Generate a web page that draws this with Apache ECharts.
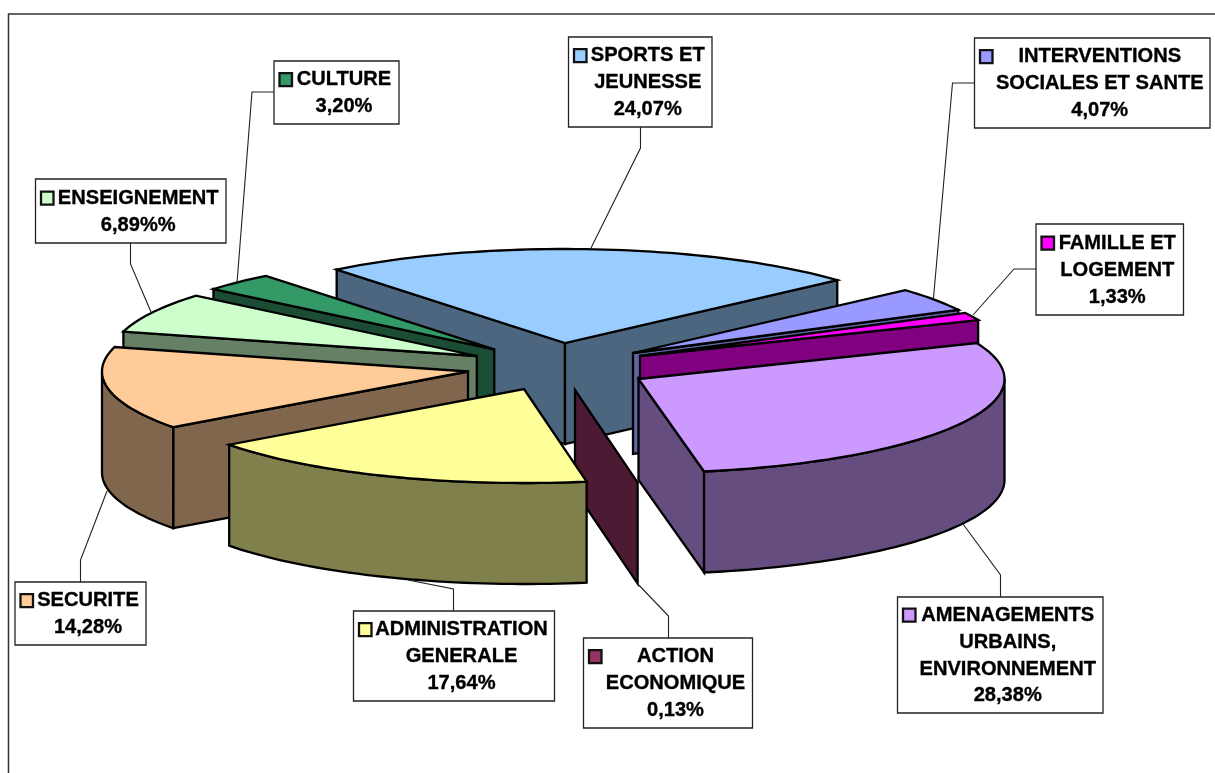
<!DOCTYPE html>
<html>
<head>
<meta charset="utf-8">
<style>html,body{margin:0;padding:0;background:#fff}#c{width:1215px;height:773px}</style>
<script src="https://cdn.jsdelivr.net/npm/echarts@6/dist/echarts.min.js"></script>
</head>
<body>
<div id="c"></div>
<script>
// ---- data ----
var categories = ['SPORTS ET JEUNESSE','INTERVENTIONS SOCIALES ET SANTE','FAMILLE ET LOGEMENT','AMENAGEMENTS URBAINS, ENVIRONNEMENT','ACTION ECONOMIQUE','ADMINISTRATION GENERALE','SECURITE','ENSEIGNEMENT','CULTURE'];
var values = [24.07, 4.07, 1.33, 28.38, 0.13, 17.64, 14.28, 6.89, 3.20];
var valueLabels = ['24,07%','4,07%','1,33%','28,38%','0,13%','17,64%','14,28%','6,89%%','3,20%'];
var labelLines = [['SPORTS ET','JEUNESSE'],['INTERVENTIONS','SOCIALES ET SANTE'],['FAMILLE ET','LOGEMENT'],['AMENAGEMENTS','URBAINS,','ENVIRONNEMENT'],['ACTION','ECONOMIQUE'],['ADMINISTRATION','GENERALE'],['SECURITE'],['ENSEIGNEMENT'],['CULTURE']];

// ---- styles ----
var topColors  = ['#99CCFF','#9999FF','#FF00FF','#CC99FF','#993366','#FFFF99','#FFCC99','#CCFFCC','#339966'];
var sideColors = ['#4D6680','#5F66A3','#800080','#664D80','#4D1A33','#80804D','#80664D','#668066','#1A4D33'];

// ---- layout (pie projection, explosion anchors, callout boxes) ----
var RX = 366, RY = 94, DEPTH = 101, START_ANGLE = -38.6;
var apex = [[565,343],[633,353],[640,356],[638.5,379],[575,390],[524,389],[468,371.5],[476.8,356],[494.3,349.3]];
var drawOrder = [0,8,7,6,1,2,3,4,5];
var boxes = [[568.5,37,143.5,90],[974.5,38,235.5,90],[1036,224,147.5,91],[897.5,597,205.5,116],[583.5,638,169,90],[353.5,611,201,90],[15,582,131,63],[35.5,179,190.5,64],[274,61,125,63]];
var leaders = [
  [[640.5,127],[640.5,148],[591,248]],
  [[974.5,83],[952.5,83],[933.5,298]],
  [[1036,269],[1014,269],[973,315]],
  [[1000.5,597],[1000.5,575],[963,524]],
  [[668.5,638],[668.5,616],[638.8,585]],
  [[453.5,611],[453.5,589],[408,580]],
  [[80.5,582],[80.5,560],[107,491]],
  [[130.5,243],[130.5,264],[151,312]],
  [[274,92],[252,92],[237,283]]
];

var total = values.reduce(function(a,b){return a+b;},0);
var spans = [], acc = START_ANGLE;
values.forEach(function(v){ var s = acc; acc += v/total*360; spans.push([s,acc]); });

function pt(c, deg, dy){
  var r = deg*Math.PI/180;
  return [c[0]+RX*Math.sin(r), c[1]-RY*Math.cos(r)+(dy||0)];
}
function arc(c, a, b, dy){
  var out = [], n = Math.max(2, Math.ceil(Math.abs(b-a)/1.5));
  for (var i=0;i<=n;i++) out.push(pt(c, a+(b-a)*i/n, dy));
  return out;
}
var EDGE = {stroke:'#000', lineWidth:2.3, lineJoin:'miter', miterLimit:6};
function poly(points, fill){
  return {type:'polygon', shape:{points:points}, silent:true,
    style:Object.assign({fill:fill}, EDGE)};
}
function renderSlice(params, api){
  var i = api.value(0);
  var a = spans[i][0], b = spans[i][1], c = apex[i];
  var kids = [];
  var sinA = Math.sin(a*Math.PI/180), sinB = Math.sin(b*Math.PI/180);
  var low = [c[0], c[1]+DEPTH];
  if (sinA < 0) { var p = pt(c,a); kids.push(poly([c,p,[p[0],p[1]+DEPTH],low], sideColors[i])); }
  if (sinB > 0) { var q = pt(c,b); kids.push(poly([c,q,[q[0],q[1]+DEPTH],low], sideColors[i])); }
  var fa = Math.max(a,90), fb = Math.min(b,270);
  if (fb - fa > 1) kids.push(poly(arc(c,fa,fb,0).concat(arc(c,fb,fa,DEPTH)), sideColors[i]));
  if (b - a > 1) kids.push(poly([c].concat(arc(c,a,b,0)), topColors[i]));
  return {type:'group', children:kids};
}
function renderCallout(params, api){
  var i = api.value(0), bx = boxes[i];
  var lines = labelLines[i].concat([valueLabels[i]]);
  return {type:'group', children:[
    {type:'polyline', silent:true, shape:{points:leaders[i]}, style:{fill:null, stroke:'#222', lineWidth:1.1}},
    {type:'rect', silent:true, shape:{x:bx[0],y:bx[1],width:bx[2],height:bx[3]}, style:{fill:'#fff', stroke:'#222', lineWidth:1.3}},
    {type:'rect', silent:true, shape:{x:bx[0]+5.5,y:bx[1]+(bx[3]-(lines.length*26.9))/2+7.5,width:12.5,height:13}, style:{fill:topColors[i], stroke:'#111', lineWidth:2.3}},
    {type:'text', silent:true, x:bx[0]+bx[2]/2+7.5, y:bx[1]+bx[3]/2+0.6, style:{
      text:lines.join('\n'), fill:'#000', stroke:'#000', lineWidth:0.35,
      font:'bold 20.1px "Liberation Sans", Arial, sans-serif',
      lineHeight:26.9, align:'center', verticalAlign:'middle'}}
  ]};
}

var chart = echarts.init(document.getElementById('c'), null, {renderer:'canvas'});
chart.setOption({
  animation:false,
  backgroundColor:'#fff',
  graphic:[
    {type:'polyline', silent:true, shape:{points:[[8.5,773],[8.5,14],[1215,14]]}, style:{fill:null, stroke:'#333', lineWidth:1.5}}
  ],
  series:[
    {type:'custom', coordinateSystem:'none', renderItem:renderSlice, silent:true, z:2,
     data:drawOrder.map(function(i){return [i, values[i]];})},
    {type:'custom', coordinateSystem:'none', renderItem:renderCallout, silent:true, z:3,
     data:values.map(function(v,i){return [i, v];})}
  ]
});
</script>
</body>
</html>
